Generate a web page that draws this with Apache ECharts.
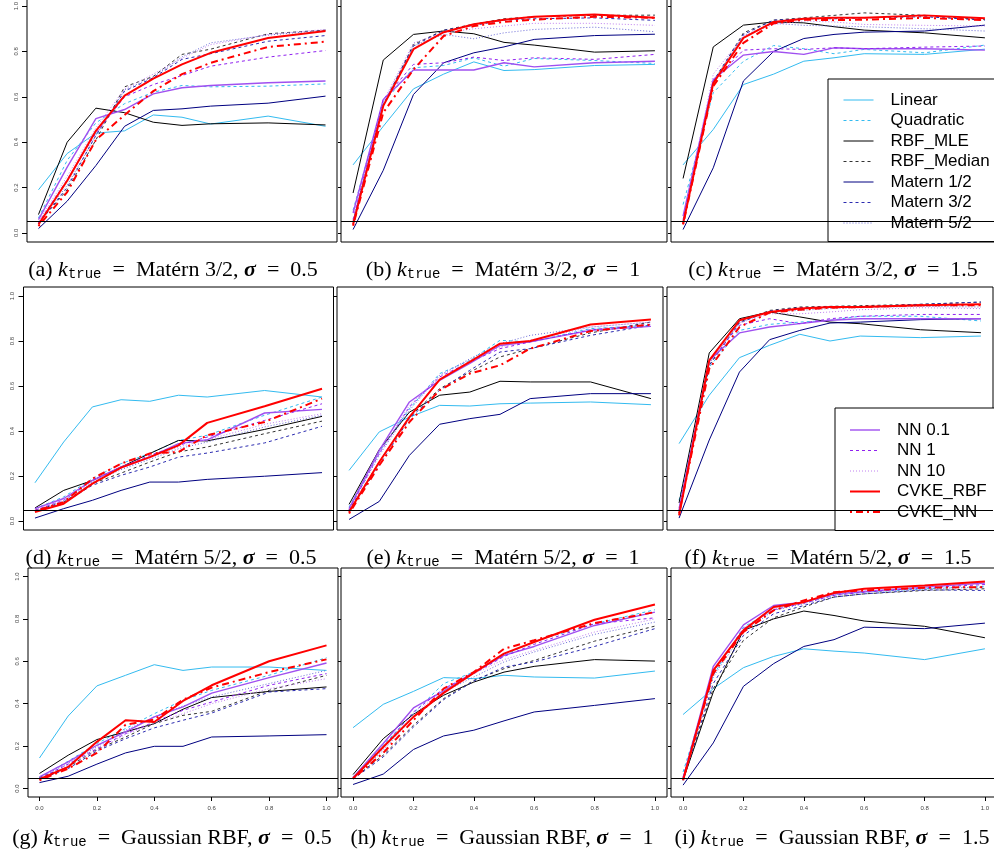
<!DOCTYPE html>
<html>
<head>
<meta charset="utf-8">
<script src="https://cdn.jsdelivr.net/npm/echarts@6/dist/echarts.min.js"></script>
<style>
  html, body { margin: 0; padding: 0; background: #fff; }
  #main { width: 994px; height: 862px; }
</style>
</head>
<body>
<div id="main"></div>
<script>
// x values shared by every panel
const xValues = [0, 0.1, 0.2, 0.3, 0.4, 0.5, 0.6, 0.8, 1.0];
const yTicks = [0, 0.2, 0.4, 0.6, 0.8, 1.0];
const xTicks = [0, 0.2, 0.4, 0.6, 0.8, 1.0];

const seriesNames = ['Linear', 'Quadratic', 'RBF_MLE', 'RBF_Median', 'Matern 1/2', 'Matern 3/2',
  'Matern 5/2', 'NN 0.1', 'NN 1', 'NN 10', 'CVKE_RBF', 'CVKE_NN'];
const legendOne = ['Linear', 'Quadratic', 'RBF_MLE', 'RBF_Median', 'Matern 1/2', 'Matern 3/2', 'Matern 5/2'];
const legendTwo = ['NN 0.1', 'NN 1', 'NN 10', 'CVKE_RBF', 'CVKE_NN'];

const panelLetters = ['a', 'b', 'c', 'd', 'e', 'f', 'g', 'h', 'i'];
const panelKernels = ['Matérn 3/2', 'Matérn 3/2', 'Matérn 3/2', 'Matérn 5/2', 'Matérn 5/2', 'Matérn 5/2',
  'Gaussian RBF', 'Gaussian RBF', 'Gaussian RBF'];
const panelSigmas = ['0.5', '1', '1.5', '0.5', '1', '1.5', '0.5', '1', '1.5'];
const nullLevel = 0.05;

// rows follow seriesNames order
const panelA = [
  [0.19, 0.35, 0.44, 0.45, 0.52, 0.51, 0.48, 0.515, 0.47],
  [0.066, 0.32, 0.485, 0.57, 0.62, 0.65, 0.644, 0.647, 0.657],
  [0.081, 0.40, 0.55, 0.53, 0.488, 0.474, 0.481, 0.485, 0.476],
  [0.044, 0.19, 0.41, 0.644, 0.69, 0.787, 0.81, 0.878, 0.894],
  [0.019, 0.14, 0.297, 0.47, 0.54, 0.547, 0.559, 0.572, 0.603],
  [0.04, 0.2, 0.43, 0.625, 0.684, 0.765, 0.79, 0.845, 0.87],
  [0.044, 0.21, 0.43, 0.63, 0.688, 0.776, 0.838, 0.872, 0.894],
  [0.059, 0.29, 0.504, 0.544, 0.613, 0.64, 0.65, 0.662, 0.67],
  [0.044, 0.235, 0.44, 0.6, 0.654, 0.694, 0.735, 0.775, 0.804],
  [0.05, 0.25, 0.463, 0.635, 0.7, 0.77, 0.83, 0.875, 0.897],
  [0.037, 0.23, 0.45, 0.605, 0.68, 0.743, 0.794, 0.859, 0.89],
  [0.03, 0.18, 0.41, 0.52, 0.625, 0.70, 0.75, 0.82, 0.843]
];
const panelB = [
  [0.30, 0.47, 0.635, 0.70, 0.754, 0.716, 0.72, 0.738, 0.743],
  [0.10, 0.573, 0.728, 0.738, 0.772, 0.735, 0.769, 0.76, 0.747],
  [0.176, 0.762, 0.875, 0.89, 0.878, 0.84, 0.828, 0.797, 0.803],
  [0.05, 0.56, 0.83, 0.894, 0.92, 0.944, 0.953, 0.959, 0.96],
  [0.015, 0.276, 0.61, 0.75, 0.794, 0.82, 0.853, 0.87, 0.876],
  [0.047, 0.566, 0.824, 0.893, 0.915, 0.938, 0.944, 0.948, 0.937],
  [0.05, 0.573, 0.824, 0.875, 0.856, 0.882, 0.897, 0.907, 0.887],
  [0.088, 0.588, 0.718, 0.718, 0.718, 0.75, 0.732, 0.75, 0.757],
  [0.06, 0.588, 0.743, 0.75, 0.775, 0.76, 0.772, 0.765, 0.787],
  [0.056, 0.58, 0.838, 0.882, 0.9, 0.912, 0.924, 0.924, 0.915],
  [0.037, 0.56, 0.81, 0.885, 0.92, 0.94, 0.953, 0.963, 0.948],
  [0.032, 0.53, 0.72, 0.868, 0.912, 0.93, 0.94, 0.953, 0.948]
];
const panelC = [
  [0.30, 0.456, 0.654, 0.70, 0.757, 0.772, 0.79, 0.787, 0.81],
  [0.125, 0.618, 0.757, 0.826, 0.812, 0.79, 0.809, 0.794, 0.828],
  [0.24, 0.82, 0.916, 0.93, 0.926, 0.909, 0.894, 0.882, 0.86],
  [0.047, 0.665, 0.882, 0.938, 0.948, 0.959, 0.97, 0.959, 0.94],
  [0.015, 0.287, 0.67, 0.80, 0.857, 0.875, 0.885, 0.89, 0.916],
  [0.047, 0.67, 0.875, 0.938, 0.944, 0.944, 0.948, 0.953, 0.938],
  [0.05, 0.67, 0.87, 0.924, 0.915, 0.912, 0.909, 0.9, 0.89],
  [0.074, 0.676, 0.784, 0.80, 0.787, 0.816, 0.812, 0.812, 0.806],
  [0.059, 0.67, 0.806, 0.812, 0.809, 0.816, 0.812, 0.819, 0.824],
  [0.056, 0.70, 0.868, 0.919, 0.934, 0.93, 0.919, 0.915, 0.912],
  [0.04, 0.66, 0.86, 0.93, 0.944, 0.948, 0.948, 0.959, 0.946],
  [0.037, 0.647, 0.838, 0.924, 0.94, 0.938, 0.94, 0.948, 0.938]
];
const panelD = [
  [0.17, 0.351, 0.507, 0.539, 0.532, 0.559, 0.551, 0.58, 0.551],
  [0.055, 0.107, 0.188, 0.255, 0.30, 0.358, 0.381, 0.47, 0.551],
  [0.058, 0.136, 0.18, 0.24, 0.30, 0.358, 0.356, 0.407, 0.465],
  [0.047, 0.084, 0.166, 0.213, 0.262, 0.307, 0.329, 0.388, 0.444],
  [0.013, 0.055, 0.092, 0.136, 0.173, 0.173, 0.185, 0.199, 0.215],
  [0.044, 0.08, 0.159, 0.203, 0.24, 0.284, 0.302, 0.347, 0.421],
  [0.047, 0.087, 0.173, 0.228, 0.274, 0.321, 0.351, 0.418, 0.47],
  [0.055, 0.10, 0.18, 0.24, 0.284, 0.344, 0.361, 0.48, 0.496],
  [0.047, 0.092, 0.18, 0.24, 0.292, 0.336, 0.373, 0.447, 0.521],
  [0.05, 0.092, 0.18, 0.233, 0.281, 0.329, 0.361, 0.43, 0.477],
  [0.04, 0.077, 0.166, 0.237, 0.284, 0.336, 0.436, 0.51, 0.588],
  [0.044, 0.084, 0.188, 0.255, 0.30, 0.307, 0.381, 0.44, 0.544]
];
const panelE = [
  [0.225, 0.396, 0.462, 0.514, 0.511, 0.521, 0.524, 0.529, 0.517],
  [0.062, 0.307, 0.499, 0.655, 0.714, 0.803, 0.796, 0.855, 0.87],
  [0.074, 0.317, 0.484, 0.559, 0.573, 0.621, 0.618, 0.618, 0.544],
  [0.047, 0.262, 0.462, 0.588, 0.662, 0.729, 0.766, 0.836, 0.884],
  [0.007, 0.087, 0.292, 0.43, 0.455, 0.474, 0.544, 0.566, 0.566],
  [0.044, 0.247, 0.455, 0.581, 0.67, 0.751, 0.766, 0.825, 0.87],
  [0.05, 0.292, 0.492, 0.647, 0.721, 0.788, 0.825, 0.862, 0.884],
  [0.055, 0.314, 0.529, 0.625, 0.70, 0.78, 0.796, 0.847, 0.865],
  [0.05, 0.30, 0.507, 0.64, 0.707, 0.766, 0.796, 0.85, 0.874],
  [0.053, 0.302, 0.514, 0.647, 0.714, 0.773, 0.803, 0.862, 0.884],
  [0.04, 0.262, 0.462, 0.628, 0.707, 0.788, 0.80, 0.873, 0.896],
  [0.033, 0.247, 0.44, 0.581, 0.655, 0.692, 0.766, 0.844, 0.873]
];
const panelF = [
  [0.344, 0.559, 0.726, 0.781, 0.83, 0.80, 0.822, 0.815, 0.822],
  [0.092, 0.684, 0.847, 0.874, 0.884, 0.892, 0.91, 0.91, 0.889],
  [0.08, 0.747, 0.899, 0.929, 0.907, 0.884, 0.877, 0.85, 0.837],
  [0.044, 0.692, 0.884, 0.936, 0.951, 0.954, 0.957, 0.963, 0.973],
  [0.013, 0.36, 0.662, 0.806, 0.847, 0.88, 0.884, 0.895, 0.899],
  [0.043, 0.692, 0.88, 0.933, 0.948, 0.951, 0.951, 0.963, 0.973],
  [0.047, 0.70, 0.884, 0.929, 0.936, 0.944, 0.948, 0.954, 0.951],
  [0.055, 0.714, 0.836, 0.862, 0.877, 0.892, 0.899, 0.899, 0.899],
  [0.047, 0.707, 0.87, 0.899, 0.877, 0.899, 0.91, 0.918, 0.918],
  [0.05, 0.702, 0.88, 0.921, 0.921, 0.929, 0.939, 0.948, 0.944],
  [0.025, 0.714, 0.892, 0.929, 0.944, 0.951, 0.951, 0.959, 0.963],
  [0.033, 0.677, 0.862, 0.926, 0.939, 0.948, 0.951, 0.959, 0.959]
];
const panelG = [
  [0.144, 0.342, 0.484, 0.534, 0.584, 0.557, 0.573, 0.573, 0.557],
  [0.052, 0.129, 0.212, 0.283, 0.353, 0.416, 0.463, 0.534, 0.617],
  [0.071, 0.157, 0.231, 0.267, 0.306, 0.374, 0.429, 0.458, 0.479],
  [0.052, 0.102, 0.184, 0.243, 0.306, 0.345, 0.364, 0.463, 0.534],
  [0.028, 0.058, 0.115, 0.168, 0.199, 0.199, 0.243, 0.248, 0.254],
  [0.044, 0.094, 0.177, 0.235, 0.286, 0.322, 0.356, 0.455, 0.471],
  [0.052, 0.118, 0.196, 0.275, 0.338, 0.389, 0.432, 0.495, 0.557],
  [0.055, 0.126, 0.204, 0.267, 0.338, 0.385, 0.45, 0.523, 0.592],
  [0.047, 0.115, 0.188, 0.259, 0.314, 0.369, 0.408, 0.487, 0.542],
  [0.047, 0.11, 0.18, 0.256, 0.306, 0.353, 0.40, 0.471, 0.518],
  [0.044, 0.102, 0.22, 0.322, 0.314, 0.413, 0.487, 0.60, 0.675],
  [0.039, 0.094, 0.168, 0.301, 0.325, 0.419, 0.476, 0.549, 0.609]
];
const panelH = [
  [0.287, 0.397, 0.458, 0.523, 0.518, 0.534, 0.526, 0.521, 0.554],
  [0.055, 0.204, 0.356, 0.495, 0.549, 0.628, 0.694, 0.777, 0.843],
  [0.066, 0.235, 0.35, 0.44, 0.502, 0.549, 0.576, 0.608, 0.601],
  [0.047, 0.157, 0.298, 0.424, 0.51, 0.565, 0.604, 0.695, 0.766],
  [0.019, 0.068, 0.184, 0.248, 0.275, 0.319, 0.361, 0.392, 0.424],
  [0.044, 0.149, 0.29, 0.419, 0.507, 0.573, 0.597, 0.67, 0.754],
  [0.047, 0.18, 0.338, 0.455, 0.526, 0.597, 0.644, 0.727, 0.785],
  [0.052, 0.212, 0.38, 0.46, 0.549, 0.628, 0.67, 0.769, 0.832],
  [0.047, 0.196, 0.361, 0.471, 0.542, 0.623, 0.68, 0.777, 0.805],
  [0.05, 0.188, 0.35, 0.463, 0.542, 0.608, 0.652, 0.738, 0.80],
  [0.047, 0.196, 0.338, 0.451, 0.545, 0.636, 0.691, 0.796, 0.868],
  [0.047, 0.168, 0.322, 0.471, 0.549, 0.659, 0.699, 0.78, 0.832]
];
const panelI = [
  [0.349, 0.471, 0.57, 0.623, 0.659, 0.648, 0.639, 0.608, 0.659],
  [0.078, 0.534, 0.761, 0.843, 0.879, 0.915, 0.926, 0.942, 0.953],
  [0.039, 0.455, 0.746, 0.80, 0.837, 0.816, 0.79, 0.765, 0.711],
  [0.042, 0.471, 0.699, 0.805, 0.856, 0.903, 0.918, 0.934, 0.942],
  [0.016, 0.215, 0.482, 0.589, 0.67, 0.702, 0.761, 0.754, 0.78],
  [0.039, 0.495, 0.722, 0.824, 0.863, 0.903, 0.918, 0.937, 0.934],
  [0.047, 0.526, 0.738, 0.84, 0.871, 0.911, 0.926, 0.942, 0.95],
  [0.047, 0.576, 0.772, 0.863, 0.879, 0.918, 0.929, 0.95, 0.969],
  [0.055, 0.549, 0.754, 0.843, 0.874, 0.911, 0.926, 0.947, 0.962],
  [0.055, 0.549, 0.754, 0.848, 0.879, 0.915, 0.931, 0.95, 0.966],
  [0.039, 0.557, 0.746, 0.856, 0.879, 0.922, 0.942, 0.958, 0.976],
  [0.042, 0.542, 0.738, 0.84, 0.887, 0.926, 0.934, 0.947, 0.95]
];
const panels = [panelA, panelB, panelC, panelD, panelE, panelF, panelG, panelH, panelI];

// line look for each method, same order as seriesNames
const lineLooks = [
  { color: '#33bbf0', type: 'solid', width: 1 },
  { color: '#33bbf0', type: [3, 3], width: 1 },
  { color: '#000000', type: 'solid', width: 1 },
  { color: '#333333', type: [3, 3], width: 1 },
  { color: '#000080', type: 'solid', width: 1 },
  { color: '#2b2bb0', type: [3, 3], width: 1 },
  { color: '#6a6ad8', type: [1, 2], width: 1 },
  { color: '#a050f0', type: 'solid', width: 1.4 },
  { color: '#9020f0', type: [3, 3], width: 1 },
  { color: '#c080f0', type: [1, 2], width: 1 },
  { color: '#ff0000', type: 'solid', width: 2 },
  { color: '#ff0000', type: [2, 4, 7, 4], width: 2 }
];

// plot boxes in pixels, one per panel
const boxes = [
  { left: 27, top: -3, width: 310, height: 245 },
  { left: 341, top: -3, width: 326, height: 245 },
  { left: 671, top: -3, width: 326, height: 245 },
  { left: 23.5, top: 287, width: 310, height: 243 },
  { left: 337, top: 287, width: 326, height: 243 },
  { left: 667, top: 287, width: 326, height: 243 },
  { left: 28, top: 568, width: 310, height: 229 },
  { left: 341, top: 568, width: 326, height: 229 },
  { left: 671, top: 568, width: 326, height: 229 }
];
const captionSpots = [[173, 270], [503, 270], [833, 270], [171, 558], [503, 558], [828, 558],
  [172, 838], [502, 838], [832, 838]];

let chart = echarts.init(document.getElementById('main'));

let grids = [];
let xAxes = [];
let yAxes = [];
let series = [];
let graphics = [];

boxes.forEach((box, p) => {
  let leftCol = p % 3 === 0;
  let bottomRow = p >= 6;
  grids.push({
    left: box.left, top: box.top, width: box.width, height: box.height,
    outerBoundsMode: 'none', containLabel: false,
    show: true, borderColor: '#000', borderWidth: 1, backgroundColor: 'transparent'
  });
  xAxes.push({
    type: 'value', gridIndex: p, min: -0.04, max: 1.04, position: 'bottom',
    axisLine: { show: false, onZero: false },
    splitLine: { show: false },
    axisTick: { show: bottomRow, inside: false, length: 4, customValues: xTicks, lineStyle: { color: '#000' } },
    axisLabel: {
      show: bottomRow, customValues: xTicks, fontSize: 6, color: '#444', margin: 8,
      fontFamily: 'Liberation Sans', formatter: (v) => v.toFixed(1)
    }
  });
  yAxes.push({
    type: 'value', gridIndex: p, min: -0.04, max: 1.04, position: 'left',
    axisLine: { show: false, onZero: false },
    splitLine: { show: false },
    axisTick: { show: true, inside: false, length: leftCol ? 5 : 3, customValues: yTicks, lineStyle: { color: '#000' } },
    axisLabel: {
      show: leftCol, customValues: yTicks, rotate: 90, fontSize: 6, color: '#444', margin: 8,
      fontFamily: 'Liberation Sans', formatter: (v) => v.toFixed(1)
    }
  });

  panels[p].forEach((row, k) => {
    let look = lineLooks[k];
    let s = {
      type: 'line', name: seriesNames[k], xAxisIndex: p, yAxisIndex: p,
      data: row.map((v, j) => [xValues[j], v]),
      symbol: 'none', silent: true, animation: false,
      lineStyle: { color: look.color, type: look.type, width: look.width },
      itemStyle: { color: look.color }
    };
    if (k === 0) {
      s.markLine = {
        silent: true, symbol: 'none', animation: false, label: { show: false },
        lineStyle: { color: '#000', type: 'solid', width: 1 },
        data: [{ yAxis: nullLevel }]
      };
    }
    series.push(s);
  });

  graphics.push({
    type: 'text', x: captionSpots[p][0], y: captionSpots[p][1], z: 10,
    style: {
      text: '{n|(' + panelLetters[p] + ') }{k|k}{t|true}{n|  =  ' + panelKernels[p] + ', }{s|σ}{n|  =  ' + panelSigmas[p] + '}',
      align: 'center', verticalAlign: 'middle',
      rich: {
        n: { fontFamily: 'Liberation Serif', fontSize: 22, lineHeight: 30, fill: '#000' },
        k: { fontFamily: 'Liberation Serif', fontStyle: 'italic', fontSize: 22, lineHeight: 30, fill: '#000' },
        t: { fontFamily: 'Liberation Mono', fontSize: 14, lineHeight: 14, padding: [9, 0, 0, 0], fill: '#000' },
        s: { fontFamily: 'Liberation Serif', fontStyle: 'italic', fontWeight: 'bold', fontSize: 22, lineHeight: 30, fill: '#000' }
      }
    }
  });
});

let legendBase = {
  orient: 'vertical', selectedMode: false,
  backgroundColor: '#fff', borderColor: '#000', borderWidth: 1, borderRadius: 0,
  itemWidth: 30, itemHeight: 14, itemGap: 3.5,
  itemStyle: { opacity: 0 },
  lineStyle: { width: 'inherit' },
  textStyle: { fontFamily: 'Liberation Sans', fontSize: 17, lineHeight: 17, color: '#000', padding: [0, 0, 0, 12] }
};

chart.setOption({
  backgroundColor: '#fff',
  animation: false,
  grid: grids,
  xAxis: xAxes,
  yAxis: yAxes,
  legend: [
    Object.assign({}, legendBase, { data: legendOne, left: 828, top: 79, padding: [12.5, 12, 10, 15] }),
    Object.assign({}, legendBase, { data: legendTwo, left: 835, top: 408, padding: [13.5, 12, 10, 14] })
  ],
  graphic: graphics,
  series: series
});
</script>
</body>
</html>
